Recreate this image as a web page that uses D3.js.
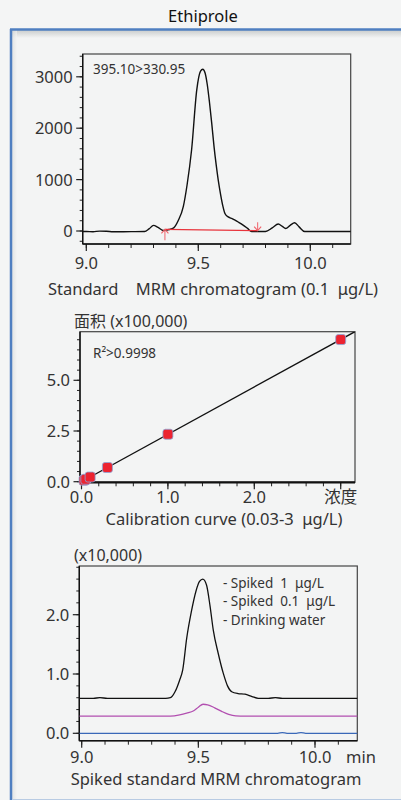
<!DOCTYPE html>
<html><head><meta charset="utf-8">
<script src="https://cdn.jsdelivr.net/npm/d3@7"></script>
<style>
html,body{margin:0;padding:0;background:#f4f5f5;}
svg{display:block;}
text{font-family:"Noto Sans","Noto Sans CJK JP",sans-serif;fill:#333;white-space:pre;}
</style></head>
<body>
<svg id="c" width="401" height="800"></svg>
<script>
// ---------- DATA ----------
const title = "Ethiprole";
// Chart 1: standard MRM chromatogram (time min, intensity)
const stdTime = [8.985,9.0,9.03,9.06,9.09,9.12,9.2,9.26,9.28,9.30,9.32,9.345,9.37,9.39,9.41,9.433,9.45,9.47,9.493,9.51,9.52,9.53,9.54,9.55,9.56,9.57,9.58,9.589,9.60,9.61,9.619,9.63,9.64,9.649,9.66,9.68,9.70,9.72,9.738,9.80,9.83,9.857,9.875,9.89,9.91,9.93,9.95,9.975,10.2];
const stdInt  = [-10,-10,-14,-2,-4,-14,-12,-10,40,110,70,10,30,60,200,473,900,1575,2740,3110,3146,3080,2850,2500,2095,1650,1280,990,700,480,340,285,260,245,220,170,115,50,-10,-10,60,135,90,50,110,160,80,-10,-10];
const stdYTicks = [0,1000,2000,3000];
const stdXTicks = [9.0,9.5,10.0];
const stdLabel = "395.10>330.95";
const baseStart = [9.351, 33];
const baseEnd = [9.765, 6];
const caption1 = "Standard    MRM chromatogram (0.1  μg/L)";

// Chart 2: calibration curve
const calConc = [0.03,0.05,0.1,0.3,1.0,3.0];
const calArea = [0.07,0.12,0.23,0.70,2.34,7.01];
const calYTicks = [0.0,2.5,5.0];
const calXTicks = [0,1,2,3];
const calXTickLabels = ["0.0","1.0","2.0","浓度"];
const calYTitle = "面积 (x100,000)";
const r2Label = "R²>0.9998";
const caption2 = "Calibration curve (0.03-3  μg/L)";

// Chart 3: spiked chromatograms (x10,000)
const sp1Time = [8.99,9.05,9.078,9.11,9.2,9.30,9.36,9.38,9.40,9.42,9.433,9.45,9.47,9.49,9.505,9.519,9.535,9.55,9.564,9.585,9.607,9.625,9.643,9.67,9.70,9.73,9.757,9.80,9.83,9.86,10.2];
const sp1Val  = [0.59,0.59,0.60,0.59,0.59,0.59,0.59,0.60,0.70,0.90,1.07,1.60,2.05,2.40,2.56,2.60,2.50,2.15,1.74,1.35,1.01,0.80,0.70,0.67,0.66,0.62,0.59,0.59,0.60,0.59,0.59];
const sp01Time = [8.99,9.30,9.38,9.42,9.45,9.48,9.50,9.52,9.54,9.57,9.60,9.63,9.66,9.70,10.2];
const sp01Val  = [0.29,0.29,0.29,0.31,0.34,0.38,0.44,0.49,0.48,0.43,0.37,0.32,0.295,0.29,0.29];
const dwTime = [8.99,9.80,9.84,9.86,9.88,9.92,9.94,9.96,10.2];
const dwVal  = [0.0,0.0,0.0,0.012,0.0,0.0,0.012,0.0,0.0];
const spYTicks = [0.0,1.0,2.0];
const spXTicks = [9.0,9.5,10.0];
const spLegend = ["- Spiked  1  μg/L","- Spiked  0.1  μg/L","- Drinking water"];
const spYTitle = "(x10,000)";
const caption3 = "Spiked standard MRM chromatogram";

// ---------- DRAW ----------
const svg = d3.select("#c");
const defs = svg.append("defs");
const sh = defs.append("linearGradient").attr("id","sh").attr("x1",0).attr("x2",0).attr("y1",0).attr("y2",1);
sh.append("stop").attr("offset",0).attr("stop-color","#c9cccc");
sh.append("stop").attr("offset",1).attr("stop-color","#f3f4f4");
const shl = defs.append("linearGradient").attr("id","shl").attr("x1",0).attr("x2",1).attr("y1",0).attr("y2",0);
shl.append("stop").attr("offset",0).attr("stop-color","#d5d8d8");
shl.append("stop").attr("offset",1).attr("stop-color","#f3f4f4");

// panel
svg.append("rect").attr("x",11).attr("y",29).attr("width",390).attr("height",771).attr("fill","#f3f4f4");
svg.append("rect").attr("x",12).attr("y",30).attr("width",389).attr("height",8).attr("fill","url(#sh)");
svg.append("rect").attr("x",12).attr("y",30).attr("width",5).attr("height",770).attr("fill","url(#shl)").attr("opacity",0.6);
svg.append("line").attr("x1",10).attr("x2",401).attr("y1",29.5).attr("y2",29.5).attr("stroke","#4f7fc1").attr("stroke-width",2.5);
svg.append("line").attr("x1",11).attr("x2",11).attr("y1",29).attr("y2",800).attr("stroke","#4f7fc1").attr("stroke-width",2.5);
svg.append("line").attr("x1",12).attr("x2",401).attr("y1",799.5).attr("y2",799.5).attr("stroke","#b8cbe3").attr("stroke-width",1);

svg.append("text").attr("x",203).attr("y",22).attr("text-anchor","middle").attr("font-size",16.5).style("fill","#111").text(title);

function ticksRange(a,b,s){const r=[];for(let v=a;v<=b+1e-9;v+=s)r.push(+v.toFixed(4));return r;}

function frame(box, x, y, yMajor, yMinor, xMajor, xMinor, opts){
  const g = svg.append("g");
  g.append("rect").attr("x",box.l).attr("y",box.t).attr("width",box.r-box.l).attr("height",box.b-box.t)
    .attr("fill","none").attr("stroke","#444").attr("stroke-width",1.2);
  g.selectAll(null).data(yMinor).enter().append("line")
    .attr("x1",box.l-3).attr("x2",box.l).attr("y1",d=>y(d)).attr("y2",d=>y(d)).attr("stroke","#222").attr("stroke-width",1);
  g.selectAll(null).data(yMajor).enter().append("line")
    .attr("x1",box.l-6.5).attr("x2",box.l).attr("y1",d=>y(d)).attr("y2",d=>y(d)).attr("stroke","#222").attr("stroke-width",1.2);
  g.selectAll(null).data(xMinor).enter().append("line")
    .attr("y1",box.b).attr("y2",box.b+4).attr("x1",d=>x(d)).attr("x2",d=>x(d)).attr("stroke","#222").attr("stroke-width",1);
  g.selectAll(null).data(xMajor).enter().append("line")
    .attr("y1",box.b).attr("y2",box.b+7).attr("x1",d=>x(d)).attr("x2",d=>x(d)).attr("stroke","#222").attr("stroke-width",1.2);
  g.append("line").attr("x1",box.l).attr("x2",box.l).attr("y1",box.t).attr("y2",box.b).attr("stroke","#111").attr("stroke-width",1.4);
  g.append("line").attr("x1",box.l).attr("x2",box.r).attr("y1",box.b).attr("y2",box.b).attr("stroke","#111").attr("stroke-width",opts.xw||1.4);
  g.selectAll(null).data(yMajor).enter().append("text")
    .attr("x",box.l-10).attr("y",d=>y(d)+6).attr("text-anchor","end").attr("font-size",16.5)
    .text((d,i)=>opts.yfmt(d));
  g.selectAll(null).data(xMajor).enter().append("text")
    .attr("x",d=>x(d)).attr("y",opts.xlabY).attr("text-anchor","middle").attr("font-size",16.5)
    .text((d,i)=>opts.xfmt(d,i));
  return g;
}

// ---- Chart 1 ----
const b1 = {l:82.7,r:350.7,t:54,b:244};
const x1 = d3.scaleLinear().domain([9,10]).range([86.3,310.3]);
const y1 = d3.scaleLinear().domain([0,3000]).range([231,76.8]);
defs.append("clipPath").attr("id","cl1").append("rect").attr("x",b1.l).attr("y",b1.t).attr("width",b1.r-b1.l).attr("height",b1.b-b1.t);
frame(b1,x1,y1,stdYTicks,ticksRange(-200,3400,200),stdXTicks,ticksRange(9.0,10.1,0.1),
  {yfmt:d=>d3.format("d")(d), xfmt:d=>d.toFixed(1), xlabY:269});
const line1 = d3.line().x((d,i)=>x1(stdTime[i])).y((d,i)=>y1(stdInt[i])).curve(d3.curveMonotoneX);
svg.append("path").attr("clip-path","url(#cl1)").attr("d",line1(stdTime)).attr("fill","none").attr("stroke","#111").attr("stroke-width",1.4);
svg.append("line").attr("x1",x1(baseStart[0])).attr("y1",y1(baseStart[1])).attr("x2",x1(baseEnd[0])).attr("y2",y1(baseEnd[1]))
  .attr("stroke","#e8343c").attr("stroke-width",1.2);
function arrow(xv, yFrom, yTo){
  const xp = x1(xv), a = y1(yFrom), b = y1(yTo), dir = Math.sign(b-a);
  svg.append("line").attr("x1",xp).attr("x2",xp).attr("y1",a).attr("y2",b).attr("stroke","#f0626a").attr("stroke-width",1);
  svg.append("path").attr("d",`M${xp-3.5},${b-4*dir}L${xp},${b}L${xp+3.5},${b-4*dir}`).attr("fill","none").attr("stroke","#f0626a").attr("stroke-width",1.1);
}
arrow(baseStart[0], -180, baseStart[1]);
arrow(baseEnd[0], 170, baseEnd[1]);
svg.append("text").attr("x",93).attr("y",74).attr("font-size",13.5).text(stdLabel);
svg.append("text").attr("x",213).attr("y",295).attr("text-anchor","middle").attr("font-size",16.5).text(caption1);

// ---- Chart 2 ----
const b2 = {l:80,r:355,t:331.7,b:482.3};
const x2 = d3.scaleLinear().domain([0,3]).range([81.5,340.7]);
const y2 = d3.scaleLinear().domain([0,5]).range([481.7,380.3]);
defs.append("clipPath").attr("id","cl2").append("rect").attr("x",b2.l).attr("y",b2.t).attr("width",b2.r-b2.l).attr("height",b2.b-b2.t);
frame(b2,x2,y2,calYTicks,ticksRange(0,7,0.5),calXTicks,ticksRange(0,3,0.2),
  {yfmt:d=>d.toFixed(1), xfmt:(d,i)=>calXTickLabels[i], xlabY:503, xw:2.2});
const slope = d3.sum(calConc,(c,i)=>c*calArea[i])/d3.sum(calConc,c=>c*c);
const fitX = [0, x2.invert(b2.r)];
svg.append("path").attr("clip-path","url(#cl2)")
  .attr("d",d3.line().x(d=>x2(d)).y(d=>y2(slope*d))(fitX)).attr("fill","none").attr("stroke","#111").attr("stroke-width",1.3);
svg.selectAll(null).data(calConc).enter().append("rect")
  .attr("x",d=>x2(d)-5).attr("y",(d,i)=>y2(calArea[i])-5).attr("width",10).attr("height",10).attr("rx",2.5)
  .attr("fill","#ec2330").attr("stroke","#8aa7d8").attr("stroke-width",0.8);
svg.append("text").attr("x",74).attr("y",327).attr("font-size",16).text(calYTitle);
svg.append("text").attr("x",93).attr("y",358).attr("font-size",13.5).text(r2Label);
svg.append("text").attr("x",224).attr("y",525).attr("text-anchor","middle").attr("font-size",16.5).text(caption2);

// ---- Chart 3 ----
const b3 = {l:79.3,r:357.3,t:566,b:740.7};
const x3 = d3.scaleLinear().domain([9,10]).range([81.7,315]);
const y3 = d3.scaleLinear().domain([0,1]).range([733.3,674]);
defs.append("clipPath").attr("id","cl3").append("rect").attr("x",b3.l).attr("y",b3.t).attr("width",b3.r-b3.l).attr("height",b3.b-b3.t);
frame(b3,x3,y3,spYTicks,ticksRange(0,2.8,0.2),spXTicks,ticksRange(9.0,10.1,0.1),
  {yfmt:d=>d.toFixed(1), xfmt:d=>d.toFixed(1), xlabY:763});
svg.append("text").attr("x",361).attr("y",763).attr("text-anchor","middle").attr("font-size",16.5).text("min");
const series3 = [
  {t:dwTime, v:dwVal, c:"#3a68b8"},
  {t:sp01Time, v:sp01Val, c:"#b24fb0"},
  {t:sp1Time, v:sp1Val, c:"#111"}
];
series3.forEach(s=>{
  const ln = d3.line().x((d,i)=>x3(s.t[i])).y((d,i)=>y3(s.v[i])).curve(d3.curveMonotoneX);
  svg.append("path").attr("clip-path","url(#cl3)").attr("d",ln(s.t)).attr("fill","none").attr("stroke",s.c).attr("stroke-width",1.3);
});
svg.selectAll(null).data(spLegend).enter().append("text")
  .attr("x",223).attr("y",(d,i)=>588+i*18.3).attr("font-size",13.5).text(d=>d);
svg.append("text").attr("x",74).attr("y",561).attr("font-size",16).text(spYTitle);
svg.append("text").attr("x",216).attr("y",785).attr("text-anchor","middle").attr("font-size",16.5).text(caption3);
</script>
</body></html>
